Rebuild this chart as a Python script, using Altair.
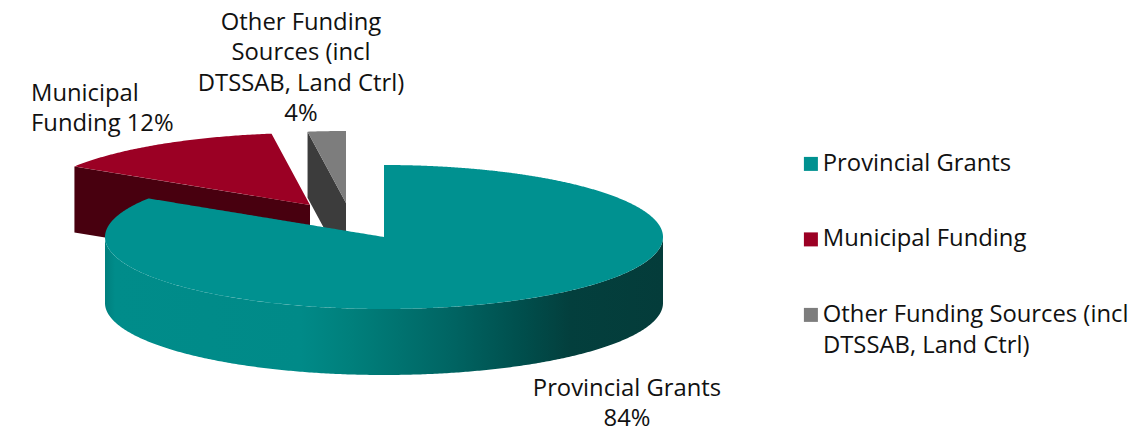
import math
import altair as alt
import pandas as pd

# ---- values ----
categories = ["Provincial Grants", "Municipal Funding", "Other Funding Sources (incl DTSSAB, Land Ctrl)"]
drawn_shares = [84.0, 13.8, 2.2]   # slice sizes as drawn (percent of the turn)
legend_colors = ["#009190", "#9b0024", "#7d7d7d"]
side_colors = ["#008f8f", "#48000f", "#3c3c3c"]
label_lines = [["Provincial Grants", "84%"], ["Municipal", "Funding 12%"],
               ["Other Funding", "Sources (incl", "DTSSAB, Land Ctrl)", "4%"]]

# ---- layout of the 3-D pie ----
RX, RY, DEPTH = 279, 72, 66
centers = [(384, 237), (310, 205), (346, 203)]
FONT = "Open Sans"
FS = 23.8


def rim(c, deg):
    t = math.radians(deg)
    return (c[0] + RX * math.sin(t), c[1] - RY * math.cos(t))


def arc(c, a, b):
    n = max(2, int(abs(b - a) * 2))
    return [rim(c, a + (b - a) * i / n) for i in range(n + 1)]


def bands(poly, name):
    """Turn a polygon into x / y / y2 rows for an area mark."""
    vs = sorted(set(p[0] for p in poly))
    lo, hi = vs[0], vs[-1]
    xs = sorted(set(min(hi, max(lo, v + d)) for v in vs for d in (-1e-3, 1e-3)))
    rows = []
    edges = list(zip(poly, poly[1:] + poly[:1]))
    for x in xs:
        ys = []
        for (x0, y0), (x1, y1) in edges:
            if min(x0, x1) <= x <= max(x0, x1) and x0 != x1:
                ys.append(y0 + (y1 - y0) * (x - x0) / (x1 - x0))
        if len(ys) >= 2:
            rows.append({"px": float(x), "py": float(min(ys)), "py2": float(max(ys)), "series": name})
    return pd.DataFrame(rows)


X = alt.Scale(domain=[8, 1135])
Y = alt.Scale(domain=[427, 8])


def area(df, **mark):
    return alt.Chart(df).mark_area(orient="vertical", **mark).encode(
        x=alt.X("px:Q", scale=X, axis=None),
        y=alt.Y("py:Q", scale=Y, axis=None, stack=None),
        y2=alt.Y2("py2:Q"),
    )


color = alt.Color(
    "series:N",
    scale=alt.Scale(domain=categories, range=legend_colors),
    sort=categories,
    legend=alt.Legend(
        title=None, orient="none", legendX=791, legendY=144,
        symbolType="square", symbolSize=196, symbolStrokeWidth=0,
        labelFont=FONT, labelFontSize=FS, labelColor="#111111", labelLimit=340,
        labelOffset=0, rowPadding=50.5, padding=0, labelOverlap=False,
        labelExpr="datum.label == '" + categories[2] + "' ? 'Other Funding Sources (incl' : datum.label",
    ),
)

cum = [0.0]
for s in drawn_shares:
    cum.append(cum[-1] + s)
ang = [c * 3.6 for c in cum]

layers = []
draw_order = [1, 2, 0]
for k in draw_order:
    c, a, b = centers[k], ang[k], ang[k + 1]
    top = [c] + arc(c, a, b)
    if k == 0:
        side = arc(c, 90, 270)
        side = side + [(x, y + DEPTH) for x, y in reversed(side)]
        stops = [(105, "#007f7d"), (115, "#008c8a"), (300, "#008a88"), (350, "#00807c"),
                 (450, "#006563"), (520, "#004f4d"), (570, "#033f3d"), (663, "#043c3a")]
        grad = alt.Gradient(gradient="linear", x1=0, x2=1, y1=0, y2=0,
                            stops=[alt.GradientStop(offset=(x - 105) / 558, color=col) for x, col in stops])
        layers.append(area(bands(side, categories[k]), color=grad))
    else:
        edge = [rim(c, a), c]
        side = edge + [(x, y + DEPTH) for x, y in reversed(edge)]
        layers.append(area(bands(side, categories[k]), color=side_colors[k]))
    layers.append(area(bands(top, categories[k])).encode(color=color))

# data labels
label_pos = [(627, 389), (31, 94), (301, 23)]
label_align = ["center", "left", "center"]
label_sets = list(zip(label_lines, label_pos, label_align)) + [(["DTSSAB, Land Ctrl)"], (823, 346), "left")]
for lines, pos, al in label_sets:
    rows = [{"px": pos[0], "py": pos[1] + 30.3 * i, "t": t} for i, t in enumerate(lines)]
    layers.append(
        alt.Chart(pd.DataFrame(rows)).mark_text(
            font=FONT, fontSize=FS, align=al, baseline="middle", color="#111111"
        ).encode(x=alt.X("px:Q", scale=X, axis=None), y=alt.Y("py:Q", scale=Y, axis=None), text="t:N")
    )

chart = alt.layer(*layers).properties(width=1127, height=419, padding=0).configure_view(stroke=None)
chart.save("out.html", embed_options={"renderer": "svg", "actions": False})
